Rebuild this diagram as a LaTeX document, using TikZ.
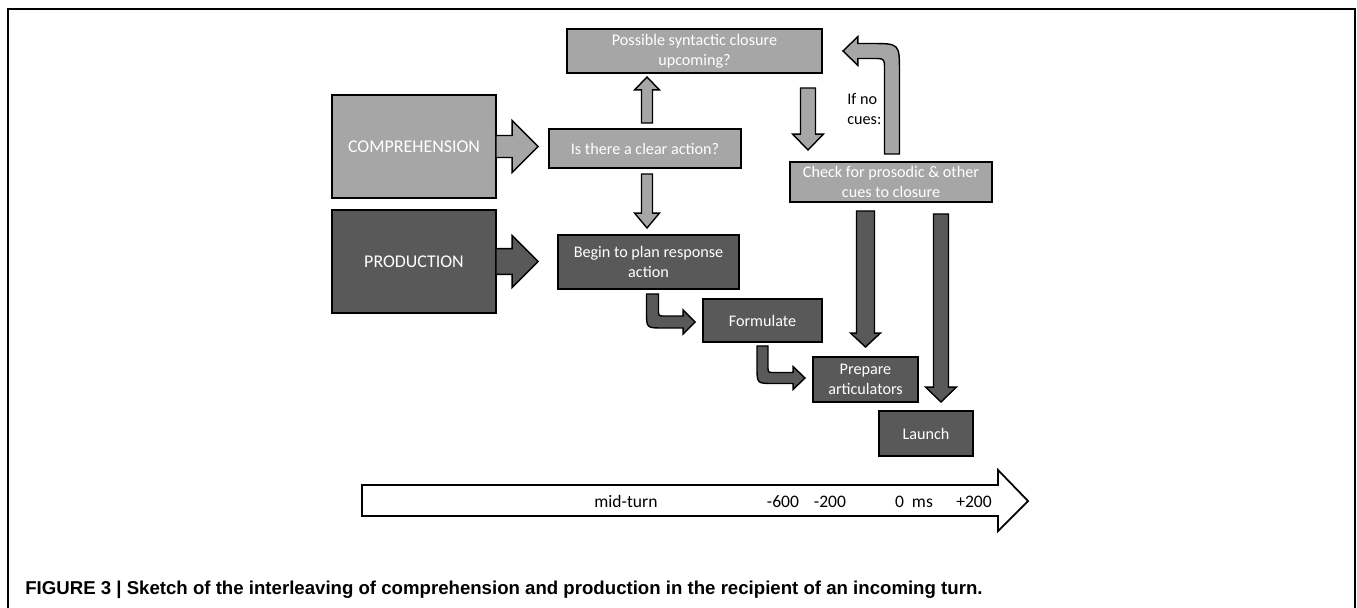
\documentclass[tikz,border=0pt]{standalone}
\usepackage{fontspec}
\setmainfont{Carlito}
\newfontfamily\capfont{Liberation Sans}
\usetikzlibrary{calc}
\definecolor{boxlight}{HTML}{A6A6A6}
\definecolor{boxdark}{HTML}{595959}
% one pixel of the sketch in pt
\def\pxpt{0.5669}
% straight block arrows: style, base, tip, shaft half width, head half width, head length
\newcommand{\vblock}[6]{%
  \draw[#1] let \p1=(#2), \p2=(#3), \n1={sign(\y2-\y1)},
    \n3={#4*\pxpt}, \n4={#5*\pxpt}, \n5={\y2-\n1*#6*\pxpt} in
    ({\x1-\n3},\y1) -- ({\x1-\n3},\n5) -- ({\x1-\n4},\n5) -- (\x1,\y2)
    -- ({\x1+\n4},\n5) -- ({\x1+\n3},\n5) -- ({\x1+\n3},\y1) -- cycle;}
\newcommand{\hblock}[6]{%
  \draw[#1] let \p1=(#2), \p2=(#3), \n1={sign(\x2-\x1)},
    \n3={#4*\pxpt}, \n4={#5*\pxpt}, \n5={\x2-\n1*#6*\pxpt} in
    (\x1,{\y1-\n3}) -- (\n5,{\y1-\n3}) -- (\n5,{\y1-\n4}) -- (\x2,\y1)
    -- (\n5,{\y1+\n4}) -- (\n5,{\y1+\n3}) -- (\x1,{\y1+\n3}) -- cycle;}
% bent block arrow: vertical first, then horizontal to the tip
% style, base, tip, shaft half width, head half width, head length, outer radius, inner radius
\newcommand{\cblock}[8]{%
  \draw[#1] let \p1=(#2), \p2=(#3), \n1={sign(\x2-\x1)}, \n2={sign(\y2-\y1)},
    \n3={#4*\pxpt}, \n4={#7*\pxpt}, \n5={#8*\pxpt},
    \n6={\x2-\n1*#6*\pxpt}, \n7={#5*\pxpt} in
    ({\x1-\n1*\n3},\y1)
    -- ({\x1-\n1*\n3},{\y2+\n2*\n3-\n2*\n4})
    .. controls ({\x1-\n1*\n3},{\y2+\n2*\n3}) .. ({\x1-\n1*\n3+\n1*\n4},{\y2+\n2*\n3})
    -- (\n6,{\y2+\n2*\n3}) -- (\n6,{\y2+\n2*\n7}) -- (\x2,\y2)
    -- (\n6,{\y2-\n2*\n7}) -- (\n6,{\y2-\n2*\n3})
    -- ({\x1+\n1*\n3+\n1*\n5},{\y2-\n2*\n3})
    .. controls ({\x1+\n1*\n3},{\y2-\n2*\n3}) .. ({\x1+\n1*\n3},{\y2-\n2*\n3-\n2*\n5})
    -- ({\x1+\n1*\n3},\y1) -- cycle;}

\begin{document}
\begin{tikzpicture}[x=0.02cm,y=-0.02cm,
    box/.style={draw=black,line width=0.8pt,inner sep=0pt,outer sep=0pt,
      align=center,text=white,font=\fontsize{9.2}{11.3}\selectfont},
    lightbox/.style={box,fill=boxlight},
    darkbox/.style={box,fill=boxdark},
    bigbox/.style={font=\fontsize{10.2}{12}\selectfont},
    lightarrow/.style={draw=black,line width=0.8pt,fill=boxlight},
    darkarrow/.style={draw=black,line width=0.8pt,fill=boxdark},
    timelabel/.style={anchor=base,font=\fontsize{10}{12}\selectfont}]
  \useasboundingbox (0,0) rectangle (1357,608);
  %
  % Frame
  \draw[line width=1.2pt] (8,608) -- (8,9) -- (1355,9) -- (1355,608);
  %
  % Boxes
  \node[lightbox,bigbox,minimum width=3.28cm,minimum height=2.06cm] (comp) at (414,146.5) {COMPREHENSION};
  \node[darkbox,bigbox,minimum width=3.28cm,minimum height=2.06cm] (prod) at (414,261.5) {PRODUCTION};
  \node[lightbox,minimum width=3.84cm,minimum height=0.78cm] (clear) at (645,148.5) {Is there a clear action?};
  \node[lightbox,minimum width=5.10cm,minimum height=0.88cm] (upcoming) at (694.5,51) {Possible syntactic closure\\upcoming?};
  \node[lightbox,minimum width=4.04cm,minimum height=0.80cm] (check) at (891,182) {Check for prosodic \& other\\cues to closure};
  \node[darkbox,minimum width=3.62cm,minimum height=1.08cm] (begin) at (648.5,262) {Begin to plan response\\action};
  \node[darkbox,minimum width=2.38cm,minimum height=0.86cm] (formulate) at (762.5,320.5) {Formulate};
  \node[darkbox,minimum width=2.10cm,minimum height=0.90cm] (prepare) at (865.5,379.5) {Prepare\\articulators};
  \node[darkbox,minimum width=1.88cm,minimum height=0.90cm] (launch) at (926,433.5) {Launch};
  %
  % Block arrows
  \hblock{lightarrow}{comp.east}{$(clear.west)+(-11,-2)$}{11}{26}{26}
  \hblock{darkarrow}{prod.east}{$(begin.west)+(-20,0)$}{13}{26}{26}
  \vblock{lightarrow}{$(clear.north)+(2,-6)$}{$(upcoming.south)+(0,4)$}{5.5}{12.5}{13}
  \vblock{lightarrow}{$(clear.south)+(2,6)$}{$(begin.north)+(0,-7)$}{5.5}{12.5}{15}
  \vblock{lightarrow}{$(check.north |- upcoming.south)+(-83,15)$}{$(check.north)+(0,-12)$}{7.5}{15.5}{16}
  \cblock{lightarrow}{$(check.north)+(1,-8)$}{$(upcoming.east)+(21,0)$}{7.5}{14.5}{15}{28}{12}
  \cblock{darkarrow}{$(begin.south)+(4,5)$}{$(formulate.west)+(-8,1.5)$}{6}{12}{12}{16}{6}
  \cblock{darkarrow}{$(formulate.south)+(0,4)$}{$(prepare.west)+(-8,-1.5)$}{5.5}{11.5}{12}{16}{6}
  \vblock{darkarrow}{$(prepare.north |- check.south)+(0,9)$}{$(prepare.north)+(0,-10)$}{9}{15}{14}
  \vblock{darkarrow}{$(launch.north |- check.south)+(15,12)$}{$(launch.north)+(15,-9)$}{7.5}{15.5}{15}
  \node[anchor=west,align=left,inner sep=0pt,font=\fontsize{9.2}{11}\selectfont] (ifno) at (847,109) {If no\\cues:};
  %
  % Time line
  \draw[line width=1pt,fill=white] (362,485) -- (998,485) -- (998,470) -- (1028,501)
    -- (998,531) -- (998,516) -- (362,516) -- cycle;
  \node[timelabel] (mid) at (626,507) {mid-turn};
  \node[timelabel] (t600) at (783,507) {-600};
  \node[timelabel] (t200) at (830,507) {-200};
  \node[timelabel] (tzero) at (914,507) {0~~ms};
  \node[timelabel] (tplus) at (974,507) {+200};
  %
  % Caption
  \node[anchor=base west,inner sep=0pt,font=\capfont\bfseries\fontsize{10.6}{12}\selectfont] (caption) at (25,594)
    {FIGURE 3 | Sketch of the interleaving of comprehension and production in the recipient of an incoming turn.};
\end{tikzpicture}
\end{document}
